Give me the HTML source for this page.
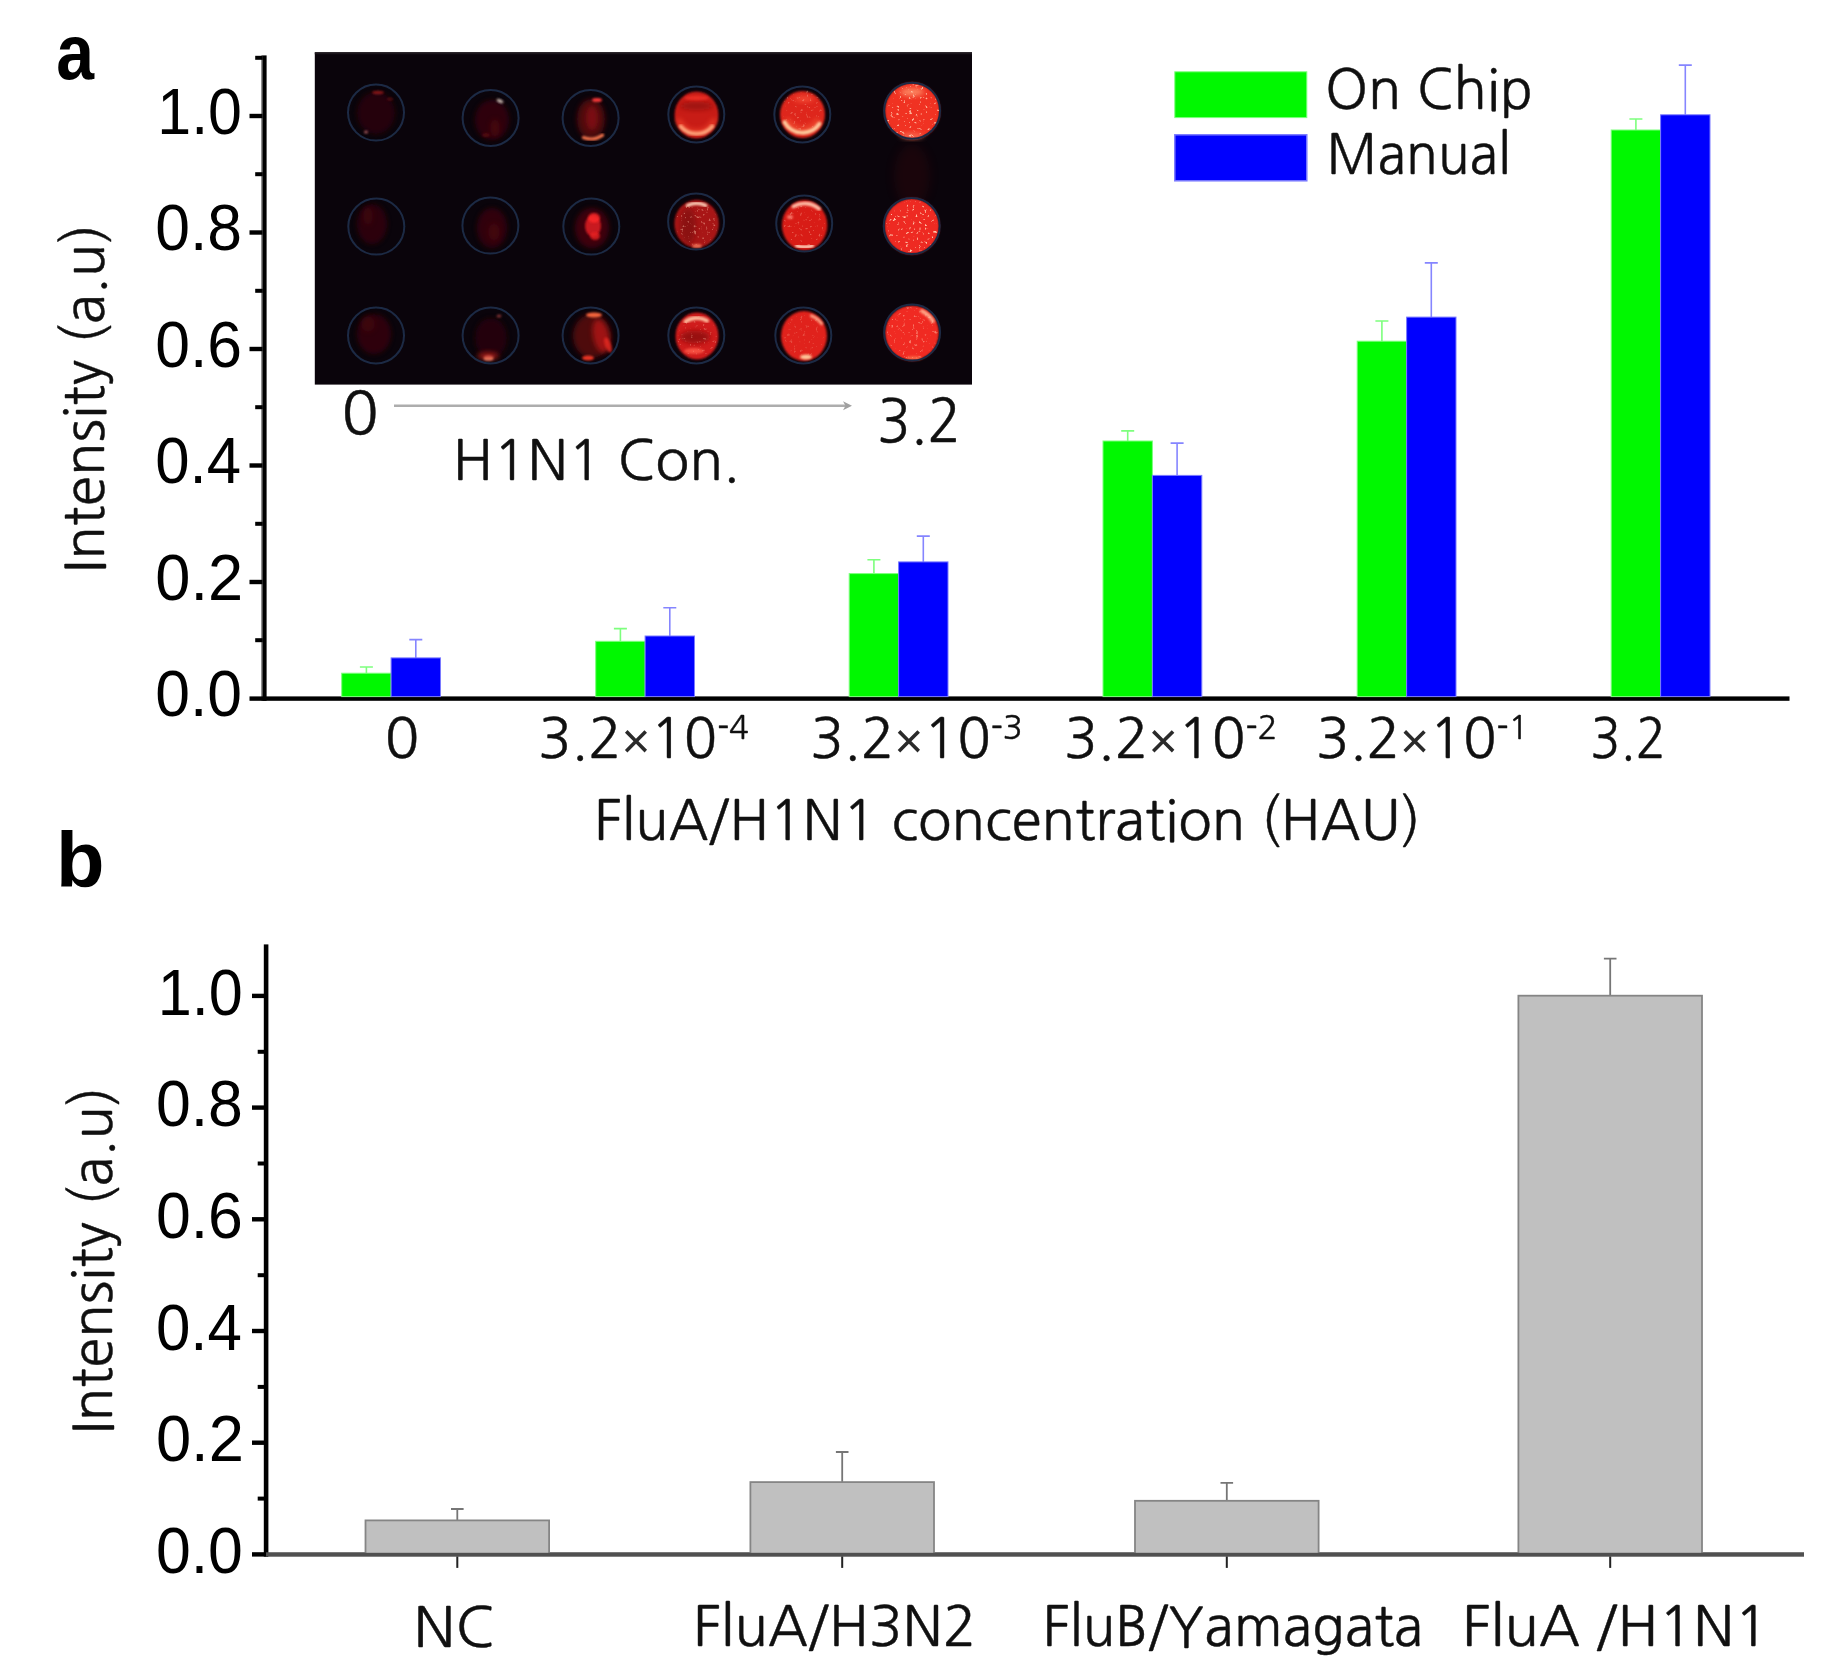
<!DOCTYPE html>
<html lang="en"><head><meta charset="utf-8"><title>Figure</title>
<style>
html,body{margin:0;padding:0;background:#fff;}
svg{display:block;filter:blur(0.45px)}
.mg{font-family:NanumGothic,"Noto Sans CJK KR","Liberation Sans",sans-serif;fill:#101010;stroke:#101010;stroke-width:0.45px;font-variant-ligatures:none;font-feature-settings:"liga" 0,"clig" 0,"kern" 1}
.ar{font-family:"Liberation Sans",Arial,sans-serif;fill:#000}
.bd{font-family:"Liberation Sans",Arial,sans-serif;font-weight:bold;fill:#000}
</style></head><body>
<svg width="1833" height="1672" viewBox="0 0 1833 1672">
<rect width="1833" height="1672" fill="#fff"/>

<text class="bd" x="56.2" y="78.6" font-size="77" textLength="37.8" lengthAdjust="spacingAndGlyphs" >a</text>
<text class="bd" x="56.1" y="886.8" font-size="77" textLength="48.5" lengthAdjust="spacingAndGlyphs" >b</text>
<g id="axes-a" fill="#000">
<rect x="262.2" y="55.4" width="4.4" height="645.4"/>
<rect x="261.2" y="55.4" width="1.2" height="645.4" fill="#777"/>
<rect x="249.5" y="696.4" width="1540" height="4.4"/>
<rect x="249.5" y="579.8" width="13" height="4.4"/>
<rect x="249.5" y="463.3" width="13" height="4.4"/>
<rect x="249.5" y="346.8" width="13" height="4.4"/>
<rect x="249.5" y="230.3" width="13" height="4.4"/>
<rect x="249.5" y="113.8" width="13" height="4.4"/>
<rect x="255.2" y="638.2" width="7.5" height="4"/>
<rect x="255.2" y="521.8" width="7.5" height="4"/>
<rect x="255.2" y="405.2" width="7.5" height="4"/>
<rect x="255.2" y="288.8" width="7.5" height="4"/>
<rect x="255.2" y="172.2" width="7.5" height="4"/>
<rect x="255.2" y="55.8" width="7.5" height="4"/>
</g>
<text class="ar" x="155.3" y="716.3" font-size="65" textLength="86.8" lengthAdjust="spacingAndGlyphs" >0.0</text>
<text class="ar" x="155.3" y="599.8" font-size="65" textLength="87.8" lengthAdjust="spacingAndGlyphs" >0.2</text>
<text class="ar" x="155.3" y="483.3" font-size="65" textLength="85.8" lengthAdjust="spacingAndGlyphs" >0.4</text>
<text class="ar" x="155.3" y="366.8" font-size="65" textLength="86.8" lengthAdjust="spacingAndGlyphs" >0.6</text>
<text class="ar" x="155.3" y="250.3" font-size="65" textLength="86.8" lengthAdjust="spacingAndGlyphs" >0.8</text>
<text class="ar" x="157.3" y="133.8" font-size="65" textLength="84.7" lengthAdjust="spacingAndGlyphs" >1.0</text>
<text class="mg" font-size="55.5" transform="translate(104.2,573.2) rotate(-90)" textLength="349.4" lengthAdjust="spacingAndGlyphs">Intensity (a.u)</text>
<g id="bars-a">
<path d="M366.4 673.2 V667.0 M359.9 667.0 H372.9" stroke="#7dff7d" stroke-width="1.6" fill="none"/>
<path d="M415.8 657.9 V639.6 M409.3 639.6 H422.3" stroke="#8585ff" stroke-width="1.6" fill="none"/>
<rect x="341.7" y="673.2" width="49.4" height="23.4" fill="#00f800" stroke="#7dff7d" stroke-width="1"/>
<rect x="391.1" y="657.9" width="49.4" height="38.7" fill="#0000fe" stroke="#7a7aff" stroke-width="1"/>
<path d="M620.4 641.3 V628.6 M613.9 628.6 H626.9" stroke="#7dff7d" stroke-width="1.6" fill="none"/>
<path d="M669.8 636.0 V607.7 M663.3 607.7 H676.3" stroke="#8585ff" stroke-width="1.6" fill="none"/>
<rect x="595.7" y="641.3" width="49.4" height="55.3" fill="#00f800" stroke="#7dff7d" stroke-width="1"/>
<rect x="645.1" y="636.0" width="49.4" height="60.6" fill="#0000fe" stroke="#7a7aff" stroke-width="1"/>
<path d="M873.9 573.6 V559.7 M867.4 559.7 H880.4" stroke="#7dff7d" stroke-width="1.6" fill="none"/>
<path d="M923.3 561.9 V536.1 M916.8 536.1 H929.8" stroke="#8585ff" stroke-width="1.6" fill="none"/>
<rect x="849.2" y="573.6" width="49.4" height="123.0" fill="#00f800" stroke="#7dff7d" stroke-width="1"/>
<rect x="898.6" y="561.9" width="49.4" height="134.7" fill="#0000fe" stroke="#7a7aff" stroke-width="1"/>
<path d="M1127.7 441.0 V430.9 M1121.2 430.9 H1134.2" stroke="#7dff7d" stroke-width="1.6" fill="none"/>
<path d="M1177.1 475.4 V443.1 M1170.6 443.1 H1183.6" stroke="#8585ff" stroke-width="1.6" fill="none"/>
<rect x="1103.0" y="441.0" width="49.4" height="255.6" fill="#00f800" stroke="#7dff7d" stroke-width="1"/>
<rect x="1152.4" y="475.4" width="49.4" height="221.2" fill="#0000fe" stroke="#7a7aff" stroke-width="1"/>
<path d="M1381.9 341.2 V321.0 M1375.4 321.0 H1388.4" stroke="#7dff7d" stroke-width="1.6" fill="none"/>
<path d="M1431.3 317.1 V262.9 M1424.8 262.9 H1437.8" stroke="#8585ff" stroke-width="1.6" fill="none"/>
<rect x="1357.2" y="341.2" width="49.4" height="355.4" fill="#00f800" stroke="#7dff7d" stroke-width="1"/>
<rect x="1406.6" y="317.1" width="49.4" height="379.5" fill="#0000fe" stroke="#7a7aff" stroke-width="1"/>
<path d="M1635.9 130.0 V119.0 M1629.4 119.0 H1642.4" stroke="#7dff7d" stroke-width="1.6" fill="none"/>
<path d="M1685.3 114.8 V65.1 M1678.8 65.1 H1691.8" stroke="#8585ff" stroke-width="1.6" fill="none"/>
<rect x="1611.2" y="130.0" width="49.4" height="566.6" fill="#00f800" stroke="#7dff7d" stroke-width="1"/>
<rect x="1660.6" y="114.8" width="49.4" height="581.8" fill="#0000fe" stroke="#7a7aff" stroke-width="1"/>
</g>
<rect x="1174.8" y="71.8" width="132" height="45.8" fill="#00f800" stroke="#7dff7d" stroke-width="1"/>
<rect x="1174.8" y="134.8" width="132" height="46" fill="#0000fe" stroke="#7a7aff" stroke-width="1.5"/>
<text class="mg" x="1325.0" y="109.2" font-size="55.5" textLength="208.1" lengthAdjust="spacingAndGlyphs" >On Chip</text>
<text class="mg" x="1326.6" y="174.2" font-size="55.5" textLength="184.2" lengthAdjust="spacingAndGlyphs" >Manual</text>
<text class="mg" x="384.7" y="758" font-size="55.5" textLength="34.6" lengthAdjust="spacingAndGlyphs" >0</text>
<text class="mg" x="538.2" y="758" font-size="55.5" textLength="210.7" lengthAdjust="spacingAndGlyphs" >3.2<tspan font-family="Liberation Sans, sans-serif" font-size="50" stroke="none" fill="#2a2a2a">×</tspan>10<tspan font-size="33" dy="-19">-4</tspan></text>
<text class="mg" x="810.3" y="758" font-size="55.5" textLength="212.5" lengthAdjust="spacingAndGlyphs" >3.2<tspan font-family="Liberation Sans, sans-serif" font-size="50" stroke="none" fill="#2a2a2a">×</tspan>10<tspan font-size="33" dy="-19">-3</tspan></text>
<text class="mg" x="1064.0" y="758" font-size="55.5" textLength="213.6" lengthAdjust="spacingAndGlyphs" >3.2<tspan font-family="Liberation Sans, sans-serif" font-size="50" stroke="none" fill="#2a2a2a">×</tspan>10<tspan font-size="33" dy="-19">-2</tspan></text>
<text class="mg" x="1316.0" y="758" font-size="55.5" textLength="212.6" lengthAdjust="spacingAndGlyphs" >3.2<tspan font-family="Liberation Sans, sans-serif" font-size="50" stroke="none" fill="#2a2a2a">×</tspan>10<tspan font-size="33" dy="-19">-1</tspan></text>
<text class="mg" x="1590.3" y="758" font-size="55.5" textLength="75.8" lengthAdjust="spacingAndGlyphs" >3.2</text>
<text class="mg" x="594.0" y="840" font-size="55.5" textLength="826.7" lengthAdjust="spacingAndGlyphs" >FluA/H1N1 concentrat<tspan>i</tspan>on (HAU)</text>
<g id="inset">
<defs>
<filter id="b0" x="-10%" y="-10%" width="120%" height="120%"><feGaussianBlur stdDeviation="0.55"/></filter>
<filter id="b1" x="-30%" y="-30%" width="160%" height="160%"><feGaussianBlur stdDeviation="1.3"/></filter>
<filter id="b2" x="-50%" y="-50%" width="200%" height="200%"><feGaussianBlur stdDeviation="2.6"/></filter>
<filter id="b4" x="-100%" y="-100%" width="300%" height="300%"><feGaussianBlur stdDeviation="5"/></filter>
<filter id="sp" x="0" y="0" width="100%" height="100%"><feTurbulence type="fractalNoise" baseFrequency="0.32" numOctaves="2" seed="11" result="n"/><feColorMatrix in="n" type="matrix" values="0 0 0 0 1  0 0 0 0 0.55  0 0 0 0 0.4  0 0 0 7 -4.45" result="s"/><feComposite in="s" in2="SourceGraphic" operator="in" result="c"/><feGaussianBlur in="c" stdDeviation="0.7"/></filter>
<clipPath id="insc"><rect x="314.8" y="52.3" width="657.2" height="332.3"/></clipPath>
</defs>
<rect x="314.8" y="52.3" width="657.2" height="332.3" fill="#0a040b"/>
<rect x="314.8" y="52.3" width="657.2" height="2" fill="#1c161c"/>
<g clip-path="url(#insc)">
<ellipse cx="912" cy="176" rx="18" ry="32" fill="#5a0a0a" opacity="0.2" filter="url(#b4)"/>
<ellipse cx="376" cy="113" rx="19" ry="21" fill="#2e0408" opacity="0.75" filter="url(#b2)"/>
<ellipse cx="378" cy="92.5" rx="6" ry="1.8" fill="#c02020" opacity="0.65" filter="url(#b1)"/>
<ellipse cx="366" cy="132" rx="2" ry="1.6" fill="#c06a70" opacity="0.8" filter="url(#b1)"/>
<ellipse cx="390" cy="99" rx="3" ry="1.5" fill="#7a1216" opacity="0.6" filter="url(#b1)"/>
<ellipse cx="492" cy="120" rx="17" ry="20" fill="#38040c" opacity="0.8" filter="url(#b2)"/>
<ellipse cx="495" cy="128" rx="5" ry="9" fill="#560710" opacity="0.55" filter="url(#b2)"/>
<ellipse cx="500" cy="101" rx="3.5" ry="1.8" fill="#d8c8c0" opacity="0.9" filter="url(#b1)" transform="rotate(25 500 101)"/>
<ellipse cx="486" cy="135" rx="4" ry="2" fill="#5a0810" opacity="0.8" filter="url(#b1)"/>
<ellipse cx="591" cy="119" rx="14" ry="20" fill="#5c0810" opacity="0.85" filter="url(#b2)"/>
<ellipse cx="592" cy="118" rx="6" ry="12" fill="#8e1018" opacity="0.7" filter="url(#b2)"/>
<ellipse cx="597" cy="100" rx="5" ry="2" fill="#ff3a3a" opacity="0.95" filter="url(#b1)"/>
<path d="M602.6 135.1 A21 21 0 0 1 583.4 137.6" stroke="#ff7a50" stroke-width="3.2" fill="none" opacity="0.95" stroke-linecap="round" filter="url(#b1)"/>
<ellipse cx="696.5" cy="115" rx="22" ry="23.5" fill="#c81c16" opacity="1" filter="url(#b1)"/>
<ellipse cx="696.5" cy="106" rx="17" ry="4" fill="#7a0c0c" opacity="0.55" filter="url(#b2)"/>
<ellipse cx="696.5" cy="98" rx="12" ry="2.5" fill="#f03028" opacity="0.8" filter="url(#b1)"/>
<path d="M712.2 126.2 A20.5 20.5 0 0 1 680.8 126.2" stroke="#ffd0a0" stroke-width="4" fill="none" opacity="0.95" stroke-linecap="round" filter="url(#b1)"/>
<path d="M713.7 121.0 A19 19 0 0 1 679.3 121.0" stroke="#ff5030" stroke-width="5" fill="none" opacity="0.6" stroke-linecap="round" filter="url(#b2)"/>
<ellipse cx="802.5" cy="114.5" rx="22.5" ry="23.5" fill="#de261c" opacity="1" filter="url(#b1)"/>
<path d="M819.3 123.8 A20.5 20.5 0 0 1 784.7 122.2" stroke="#ffe0b0" stroke-width="4.2" fill="none" opacity="0.95" stroke-linecap="round" filter="url(#b1)"/>
<path d="M817.2 120.5 A17 17 0 0 1 787.8 120.5" stroke="#ff6a40" stroke-width="4" fill="none" opacity="0.6" stroke-linecap="round" filter="url(#b2)"/>
<ellipse cx="804" cy="99" rx="10" ry="3" fill="#ff5a40" opacity="0.7" filter="url(#b2)"/>
<circle cx="802.5" cy="110" r="20" fill="#fff" opacity="0.35" filter="url(#sp)"/>
<ellipse cx="912.3" cy="111" rx="27.6" ry="28.2" fill="#f03222" opacity="1" filter="url(#b1)"/>
<ellipse cx="912" cy="92" rx="12" ry="4" fill="#ff9a70" opacity="0.8" filter="url(#b2)"/>
<ellipse cx="912" cy="136" rx="12" ry="3" fill="#ff9070" opacity="0.6" filter="url(#b2)"/>
<circle cx="912.3" cy="111" r="27" fill="#fff" opacity="0.9" filter="url(#sp)"/>
<ellipse cx="372" cy="224" rx="15" ry="20" fill="#36050b" opacity="0.8" filter="url(#b2)"/>
<ellipse cx="368" cy="216" rx="5" ry="9" fill="#4a0710" opacity="0.5" filter="url(#b2)"/>
<ellipse cx="492" cy="228" rx="15" ry="20" fill="#3a040d" opacity="0.8" filter="url(#b2)"/>
<ellipse cx="494" cy="232" rx="6" ry="9" fill="#500711" opacity="0.55" filter="url(#b2)"/>
<ellipse cx="592" cy="228" rx="17" ry="20" fill="#4c060c" opacity="0.8" filter="url(#b2)"/>
<ellipse cx="593" cy="226" rx="8" ry="10.5" fill="#d01a20" opacity="0.95" filter="url(#b1)"/>
<ellipse cx="594" cy="218" rx="6" ry="5" fill="#ff2a2a" opacity="0.8" filter="url(#b1)"/>
<ellipse cx="595" cy="236" rx="5" ry="4" fill="#e82020" opacity="0.8" filter="url(#b1)"/>
<ellipse cx="696.6" cy="223.8" rx="22.3" ry="24" fill="#a81412" opacity="1" filter="url(#b1)"/>
<ellipse cx="688" cy="226" rx="8" ry="18" fill="#700a0c" opacity="0.5" filter="url(#b2)"/>
<path d="M687.5 205.5 A21.5 21.5 0 0 1 705.7 205.5" stroke="#ffd8c0" stroke-width="3.4" fill="none" opacity="0.95" stroke-linecap="round" filter="url(#b1)"/>
<ellipse cx="697" cy="246" rx="5" ry="2" fill="#ff8060" opacity="0.8" filter="url(#b1)"/>
<circle cx="696.6" cy="223.8" r="21" fill="#fff" opacity="0.45" filter="url(#sp)"/>
<ellipse cx="804.6" cy="225.2" rx="22.7" ry="25.2" fill="#d81e18" opacity="1" filter="url(#b1)"/>
<path d="M793.4 206.5 A22.5 22.5 0 0 1 819.1 208.8" stroke="#ffc8b0" stroke-width="3.6" fill="none" opacity="0.95" stroke-linecap="round" filter="url(#b1)"/>
<path d="M812.5 245.6 A23 23 0 0 1 796.7 245.6" stroke="#ffd8c0" stroke-width="3.4" fill="none" opacity="0.95" stroke-linecap="round" filter="url(#b1)"/>
<ellipse cx="790" cy="217" rx="3" ry="2" fill="#ff9080" opacity="0.8" filter="url(#b1)"/>
<circle cx="804.6" cy="225" r="21" fill="#fff" opacity="0.35" filter="url(#sp)"/>
<ellipse cx="911.9" cy="226.3" rx="27.4" ry="28" fill="#ee2a22" opacity="1" filter="url(#b1)"/>
<circle cx="911.9" cy="226.3" r="26" fill="#fff" opacity="1" filter="url(#sp)"/>
<ellipse cx="374" cy="334" rx="17" ry="20" fill="#38050a" opacity="0.8" filter="url(#b2)"/>
<ellipse cx="368" cy="324" rx="7" ry="8" fill="#4c070d" opacity="0.5" filter="url(#b2)"/>
<ellipse cx="491" cy="338" rx="16" ry="20" fill="#2c0408" opacity="0.8" filter="url(#b2)"/>
<ellipse cx="488.5" cy="358" rx="5" ry="2.6" fill="#ffb090" opacity="1" filter="url(#b1)"/>
<ellipse cx="488" cy="356" rx="11" ry="4" fill="#c02018" opacity="0.7" filter="url(#b2)"/>
<ellipse cx="499" cy="316" rx="2.5" ry="1.5" fill="#a04040" opacity="0.8" filter="url(#b1)"/>
<ellipse cx="592" cy="336" rx="19" ry="22" fill="#5a090c" opacity="0.85" filter="url(#b2)"/>
<ellipse cx="601" cy="336" rx="8" ry="17" fill="#b41814" opacity="0.8" filter="url(#b2)" transform="rotate(-12 601 336)"/>
<ellipse cx="594" cy="315" rx="8" ry="2.6" fill="#ff6a40" opacity="0.95" filter="url(#b1)"/>
<ellipse cx="588" cy="358" rx="6" ry="2.4" fill="#ff3a28" opacity="0.9" filter="url(#b1)"/>
<ellipse cx="608" cy="345" rx="3" ry="8" fill="#e82a20" opacity="0.8" filter="url(#b1)" transform="rotate(-20 608 345)"/>
<ellipse cx="697" cy="336" rx="21.5" ry="23.5" fill="#d01c1c" opacity="1" filter="url(#b1)"/>
<ellipse cx="695" cy="337" rx="15" ry="6.5" fill="#8a0c0e" opacity="0.8" filter="url(#b2)"/>
<path d="M685.5 321.6 A20 20 0 0 1 707.0 320.7" stroke="#ffc0a0" stroke-width="4" fill="none" opacity="0.95" stroke-linecap="round" filter="url(#b1)"/>
<ellipse cx="694" cy="351" rx="10" ry="3" fill="#ff5a48" opacity="0.8" filter="url(#b1)"/>
<circle cx="697" cy="336" r="20" fill="#fff" opacity="0.3" filter="url(#sp)"/>
<ellipse cx="804" cy="336" rx="23" ry="25" fill="#e0221a" opacity="1" filter="url(#b1)"/>
<ellipse cx="806" cy="357" rx="6" ry="2.6" fill="#ffd0a0" opacity="0.95" filter="url(#b1)"/>
<path d="M811.4 315.8 A21.5 21.5 0 0 1 821.6 323.7" stroke="#ffb090" stroke-width="3" fill="none" opacity="0.9" stroke-linecap="round" filter="url(#b1)"/>
<circle cx="804" cy="336" r="21" fill="#fff" opacity="0.25" filter="url(#sp)"/>
<ellipse cx="912" cy="333" rx="27" ry="27.6" fill="#f02c20" opacity="1" filter="url(#b1)"/>
<path d="M922.1 311.2 A24 24 0 0 1 932.8 321.0" stroke="#ffb090" stroke-width="4" fill="none" opacity="0.9" stroke-linecap="round" filter="url(#b1)"/>
<ellipse cx="914" cy="358" rx="8" ry="2" fill="#ff7a50" opacity="0.7" filter="url(#b1)"/>
<circle cx="912" cy="333" r="26" fill="#fff" opacity="0.5" filter="url(#sp)"/>
<circle cx="376" cy="112.6" r="28" fill="none" stroke="#1c2a44" stroke-width="2" filter="url(#b0)"/>
<circle cx="490.6" cy="117.9" r="28" fill="none" stroke="#1c2a44" stroke-width="2" filter="url(#b0)"/>
<circle cx="590.6" cy="117.9" r="28" fill="none" stroke="#1c2a44" stroke-width="2" filter="url(#b0)"/>
<circle cx="696.3" cy="114.5" r="28" fill="none" stroke="#1c2a44" stroke-width="2" filter="url(#b0)"/>
<circle cx="802.3" cy="114.5" r="28" fill="none" stroke="#1c2a44" stroke-width="2" filter="url(#b0)"/>
<circle cx="912.1" cy="110.7" r="28" fill="none" stroke="#1c2a44" stroke-width="2" filter="url(#b0)"/>
<circle cx="376.3" cy="226.6" r="28" fill="none" stroke="#1c2a44" stroke-width="2" filter="url(#b0)"/>
<circle cx="490.4" cy="225.6" r="28" fill="none" stroke="#1c2a44" stroke-width="2" filter="url(#b0)"/>
<circle cx="591.3" cy="226.6" r="28" fill="none" stroke="#1c2a44" stroke-width="2" filter="url(#b0)"/>
<circle cx="696.1" cy="221.6" r="28" fill="none" stroke="#1c2a44" stroke-width="2" filter="url(#b0)"/>
<circle cx="804.2" cy="223.6" r="28" fill="none" stroke="#1c2a44" stroke-width="2" filter="url(#b0)"/>
<circle cx="911.7" cy="226.1" r="28" fill="none" stroke="#1c2a44" stroke-width="2" filter="url(#b0)"/>
<circle cx="376" cy="335.5" r="28" fill="none" stroke="#1c2a44" stroke-width="2" filter="url(#b0)"/>
<circle cx="490.6" cy="335.5" r="28" fill="none" stroke="#1c2a44" stroke-width="2" filter="url(#b0)"/>
<circle cx="590.6" cy="335.5" r="28" fill="none" stroke="#1c2a44" stroke-width="2" filter="url(#b0)"/>
<circle cx="696.3" cy="335.5" r="28" fill="none" stroke="#1c2a44" stroke-width="2" filter="url(#b0)"/>
<circle cx="803.3" cy="335.5" r="28" fill="none" stroke="#1c2a44" stroke-width="2" filter="url(#b0)"/>
<circle cx="912.1" cy="332.6" r="28" fill="none" stroke="#1c2a44" stroke-width="2" filter="url(#b0)"/>
</g>
</g>
<text class="mg" x="341.5" y="435.4" font-size="58.5" textLength="37.2" lengthAdjust="spacingAndGlyphs" >0</text>
<text class="mg" x="877.2" y="442" font-size="58.5" textLength="83.8" lengthAdjust="spacingAndGlyphs" >3.2</text>
<text class="mg" x="452.5" y="480.3" font-size="55.5" textLength="287.6" lengthAdjust="spacingAndGlyphs" >H1N1 Con.</text>
<path d="M394 405.7 H848" stroke="#adadad" stroke-width="2.6" fill="none"/>
<path d="M843 401.2 L852 405.7 L843 410.2 L845.5 405.7 Z" fill="#a0a0a0"/>
<g id="axes-b" fill="#000">
<rect x="263.8" y="944.4" width="4.6" height="612.2"/>
<rect x="252" y="1552.2" width="16" height="4.4"/>
<rect x="266" y="1552.3" width="1538" height="4.2" fill="#4d4d4d"/>
<rect x="252" y="1440.5" width="13" height="4.4"/>
<rect x="252" y="1328.8" width="13" height="4.4"/>
<rect x="252" y="1217.1" width="13" height="4.4"/>
<rect x="252" y="1105.4" width="13" height="4.4"/>
<rect x="252" y="993.7" width="13" height="4.4"/>
<rect x="257.7" y="1496.6" width="7.5" height="4"/>
<rect x="257.7" y="1384.9" width="7.5" height="4"/>
<rect x="257.7" y="1273.2" width="7.5" height="4"/>
<rect x="257.7" y="1161.5" width="7.5" height="4"/>
<rect x="257.7" y="1049.8" width="7.5" height="4"/>
</g>
<text class="ar" x="155.9" y="1573.0" font-size="65" textLength="87.0" lengthAdjust="spacingAndGlyphs" >0.0</text>
<text class="ar" x="155.9" y="1461.3" font-size="65" textLength="88.0" lengthAdjust="spacingAndGlyphs" >0.2</text>
<text class="ar" x="155.9" y="1349.6" font-size="65" textLength="86.0" lengthAdjust="spacingAndGlyphs" >0.4</text>
<text class="ar" x="155.9" y="1237.9" font-size="65" textLength="87.0" lengthAdjust="spacingAndGlyphs" >0.6</text>
<text class="ar" x="155.9" y="1126.2" font-size="65" textLength="87.0" lengthAdjust="spacingAndGlyphs" >0.8</text>
<text class="ar" x="157.8" y="1014.5" font-size="65" textLength="85.0" lengthAdjust="spacingAndGlyphs" >1.0</text>
<text class="mg" font-size="55.5" transform="translate(112.2,1434.6) rotate(-90)" textLength="348.2" lengthAdjust="spacingAndGlyphs">Intensity (a.u)</text>
<g id="bars-b">
<path d="M457.3 1520.4 V1509.0 M451.0 1509.0 H463.6" stroke="#767676" stroke-width="1.8" fill="none"/>
<rect x="365.5" y="1520.4" width="183.6" height="34.0" fill="#c0c0c0" stroke="#858585" stroke-width="1.8"/>
<rect x="456.3" y="1556.4" width="2" height="11.5" fill="#222"/>
<path d="M842.2 1482.1 V1452.0 M835.9 1452.0 H848.5" stroke="#767676" stroke-width="1.8" fill="none"/>
<rect x="750.4" y="1482.1" width="183.6" height="72.3" fill="#c0c0c0" stroke="#858585" stroke-width="1.8"/>
<rect x="841.2" y="1556.4" width="2" height="11.5" fill="#222"/>
<path d="M1226.8 1500.8 V1482.8 M1220.5 1482.8 H1233.1" stroke="#767676" stroke-width="1.8" fill="none"/>
<rect x="1135.0" y="1500.8" width="183.6" height="53.6" fill="#c0c0c0" stroke="#858585" stroke-width="1.8"/>
<rect x="1225.8" y="1556.4" width="2" height="11.5" fill="#222"/>
<path d="M1610.2 995.7 V958.6 M1603.9 958.6 H1616.5" stroke="#767676" stroke-width="1.8" fill="none"/>
<rect x="1518.4" y="995.7" width="183.6" height="558.7" fill="#c0c0c0" stroke="#858585" stroke-width="1.8"/>
<rect x="1609.2" y="1556.4" width="2" height="11.5" fill="#222"/>
</g>
<rect x="266" y="1552.8" width="1538" height="3.6" fill="#505050"/>
<text class="mg" x="413.3" y="1646.6" font-size="55.5" textLength="81.1" lengthAdjust="spacingAndGlyphs" >NC</text>
<text class="mg" x="693.0" y="1645.6" font-size="55.5" textLength="283.4" lengthAdjust="spacingAndGlyphs" >FluA/H3N2</text>
<text class="mg" x="1042.4" y="1645.6" font-size="55.5" textLength="380.9" lengthAdjust="spacingAndGlyphs" >FluB/Yamagata</text>
<text class="mg" x="1461.9" y="1645.6" font-size="55.5" textLength="306.9" lengthAdjust="spacingAndGlyphs" >FluA /H1N1</text>
</svg></body></html>
